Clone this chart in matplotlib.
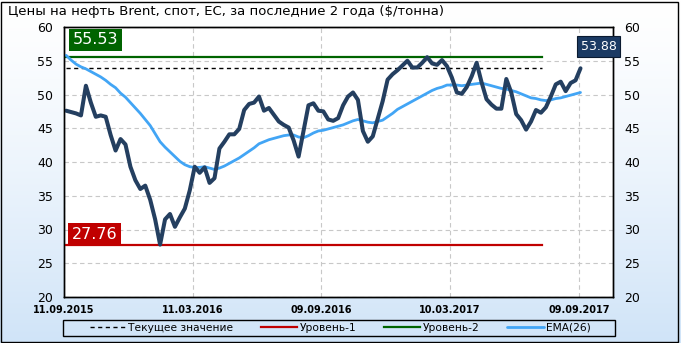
import matplotlib
matplotlib.use("Agg")
import matplotlib.pyplot as plt
import numpy as np
import pandas as pd

# weekly Brent spot prices, $/t
price = [47.6, 47.4, 47.2, 46.9, 51.3, 48.8, 46.7, 46.9, 46.7, 44.0,
         41.7, 43.4, 42.6, 39.3, 37.3, 36.0, 36.5, 34.4, 31.5, 27.76,
         31.5, 32.3, 30.4, 31.8, 33.1, 35.8, 39.3, 38.4, 39.2, 36.9,
         37.6, 42.0, 43.0, 44.1, 44.1, 44.9, 47.7, 48.6, 48.8, 49.7,
         47.6, 48.0, 47.0, 46.0, 45.5, 45.1, 43.2, 40.8, 44.6, 48.4,
         48.7, 47.6, 47.5, 46.3, 46.1, 46.5, 48.4, 49.7, 50.3, 49.2,
         44.6, 43.0, 43.8, 46.4, 49.0, 52.2, 53.0, 53.6, 54.3, 55.0,
         54.0, 54.0, 54.7, 55.53, 54.6, 54.4, 55.1, 54.2, 52.5, 50.3,
         50.1, 51.1, 52.7, 54.7, 51.8, 49.3, 48.5, 47.9, 47.9, 52.3,
         50.3, 47.1, 46.2, 44.8, 46.0, 47.7, 47.3, 48.1, 49.7, 51.5,
         51.9, 50.5, 51.7, 52.1, 53.88]

ema26 = [55.8, 55.1, 54.5, 54.1, 53.8, 53.4, 53.0, 52.6, 52.1, 51.5,
         51.0, 50.2, 49.6, 48.8, 48.0, 47.2, 46.3, 45.4, 44.2, 43.0,
         42.2, 41.5, 40.8, 40.1, 39.6, 39.3, 39.2, 39.2, 39.3, 39.1,
         38.9, 39.1, 39.4, 39.8, 40.2, 40.6, 41.1, 41.6, 42.1, 42.7,
         43.0, 43.3, 43.5, 43.7, 43.9, 44.0, 44.0, 43.7, 43.6, 43.9,
         44.3, 44.6, 44.7, 44.9, 45.1, 45.3, 45.5, 45.8, 46.1, 46.3,
         46.1, 45.9, 45.8, 46.0, 46.2, 46.7, 47.2, 47.8, 48.2, 48.6,
         49.0, 49.4, 49.8, 50.2, 50.6, 50.9, 51.1, 51.4, 51.4, 51.4,
         51.3, 51.4, 51.5, 51.6, 51.7, 51.5, 51.3, 51.1, 50.9, 50.8,
         50.6, 50.4, 50.1, 49.8, 49.5, 49.4, 49.2, 49.1, 49.2, 49.4,
         49.5, 49.7, 49.9, 50.1, 50.3]

dates = pd.date_range("2015-09-14", periods=len(price), freq="7D")

level1 = 27.76
level2 = 55.53
current = 53.88
level_start = "2015-09-14"
level_end = "2017-07-18"

tick_dates = ["2015-09-11", "2016-03-11", "2016-09-09", "2017-03-10", "2017-09-09"]
tick_labels = ["11.09.2015", "11.03.2016", "09.09.2016", "10.03.2017", "09.09.2017"]
yticks = [20, 25, 30, 35, 40, 45, 50, 55, 60]

title = "Цены на нефть Brent, спот, ЕС, за последние 2 года ($/тонна)"

fig = plt.figure(figsize=(6.81, 3.43), dpi=100)

# gradient background
bg = fig.add_axes([0, 0, 1, 1], zorder=-10)
grad = np.linspace(0, 1, 256).reshape(-1, 1)
top = np.array([1.0, 1.0, 1.0])
bot = np.array([0xd0, 0xe4, 0xf8]) / 255.0
img = top + (bot - top) * grad[:, :, None] ** 1.3
bg.imshow(img, aspect="auto", extent=[0, 1, 0, 1])
bg.set_axis_off()
fig.patches.append(plt.Rectangle((0.002, 0.004), 0.994, 0.991, transform=fig.transFigure,
                                 fill=False, edgecolor="black", linewidth=1))
# legend frame
fig.patches.append(plt.Rectangle((63 / 681, 7 / 343), 552 / 681, 16 / 343,
                                 transform=fig.transFigure, fill=False,
                                 edgecolor="black", linewidth=1))

ax = fig.add_axes([64 / 681, 46 / 343, 549 / 681, 270 / 343])
ax.set_facecolor("white")

x0 = pd.Timestamp("2015-09-11")
x1 = pd.Timestamp("2017-10-27")
ax.set_xlim(x0, x1)
ax.set_ylim(20, 60)

span = [pd.Timestamp(level_start), pd.Timestamp(level_end)]
ax.plot(span, [current, current], color="black", lw=1, dashes=(3, 2.5),
        label="Текущее значение", zorder=3)
ax.plot(span, [level1, level1], color="#c00000", lw=1.6, label="Уровень-1", zorder=3)
ax.plot(span, [level2, level2], color="#006400", lw=1.6, label="Уровень-2", zorder=3)
ax.plot(dates, ema26, color="#42a5f5", lw=2.0, label="EMA(26)", zorder=4,
        solid_capstyle="round")
ax.plot(dates, price, color="#243f60", lw=2.9, zorder=5, solid_joinstyle="round",
        solid_capstyle="round")

ax.set_xticks([pd.Timestamp(d) for d in tick_dates])
ax.set_xticklabels(tick_labels, fontsize=7, fontweight="bold")
ax.set_yticks(yticks)
ax.tick_params(axis="both", length=0, labelsize=9)
ax.tick_params(axis="x", pad=6, labelsize=7)
ax.tick_params(axis="y", pad=8)
ax.grid(True, color="#c8c8c8", linestyle=(0, (4, 3)), linewidth=0.8)
for s in ax.spines.values():
    s.set_color("black")
    s.set_linewidth(1)

ax2 = ax.twinx()
ax2.set_ylim(20, 60)
ax2.set_yticks(yticks)
ax2.tick_params(axis="y", length=0, labelsize=9, pad=8)
for s in ax2.spines.values():
    s.set_color("black")
    s.set_linewidth(1)

ax.text(0.016, 0.925, "%.2f" % level2, transform=ax.transAxes, fontsize=11.5, color="white",
        ha="left", va="bottom", zorder=6,
        bbox=dict(boxstyle="square,pad=0.22", facecolor="#006400", edgecolor="none"))
ax.text(0.014, 0.205, "%.2f" % level1, transform=ax.transAxes, fontsize=11.5, color="white",
        ha="left", va="bottom", zorder=6,
        bbox=dict(boxstyle="square,pad=0.22", facecolor="#c00000", edgecolor="none"))
fig.text(598.5 / 681, 1 - 46 / 343, "%.2f" % current, fontsize=9, color="white",
         ha="center", va="center", zorder=20,
         bbox=dict(boxstyle="square,pad=0.32", facecolor="#1b3a63", edgecolor="#0a1a30",
                   linewidth=0.8))

fig.text(8 / 681, 1 - 12 / 343, title, fontsize=9.5, ha="left", va="center")

leg = fig.legend(loc="center", bbox_to_anchor=(340 / 681, 15 / 343),
                 ncol=4, fontsize=7.7, frameon=False,
                 handlelength=3.4, handletextpad=0.2, columnspacing=2.6)

fig.savefig("out.png", dpi=100)
